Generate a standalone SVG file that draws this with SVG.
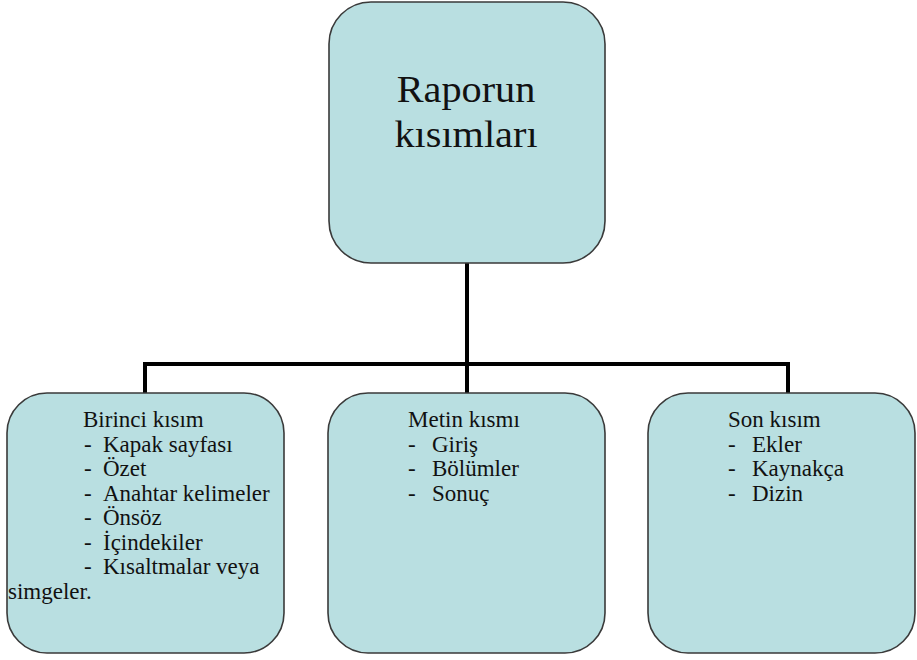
<svg xmlns="http://www.w3.org/2000/svg" width="917" height="660" viewBox="0 0 917 660">
<style>
.box{fill:#b9dfe1;stroke:#3a3a3a;stroke-width:1.6}
.t{font-family:"Liberation Serif","Times New Roman",serif;font-size:23px;fill:#111}
.title{font-family:"Liberation Serif","Times New Roman",serif;font-size:38px;fill:#111;text-anchor:middle}
.c{fill:none;stroke:#000;stroke-width:4}
</style>
<rect width="917" height="660" fill="#fff"/>
<g id="connectors">
<path class="c" d="M467 263V364M145 393V364H788V393M467 364V393"/>
</g>
<g id="root">
<rect class="box" x="329" y="2" width="276" height="261" rx="42"/>
<text class="title" transform="translate(466,102) scale(1.06,1)">Raporun</text>
<text class="title" transform="translate(466,147) scale(1.06,1)">kısımları</text>
</g>
<g id="birinci">
<rect class="box" x="7" y="393" width="277" height="260" rx="40"/>
<text class="t" x="83" y="427">Birinci kısım</text>
<text class="t" x="84" y="451.5">-</text>
<text class="t" x="103" y="451.5">Kapak sayfası</text>
<text class="t" x="84" y="476">-</text>
<text class="t" x="103" y="476">Özet</text>
<text class="t" x="84" y="500.5">-</text>
<text class="t" x="103" y="500.5">Anahtar kelimeler</text>
<text class="t" x="84" y="525">-</text>
<text class="t" x="103" y="525">Önsöz</text>
<text class="t" x="84" y="549.5">-</text>
<text class="t" x="103" y="549.5">İçindekiler</text>
<text class="t" x="84" y="574">-</text>
<text class="t" x="103" y="574">Kısaltmalar veya</text>
<text class="t" x="8" y="598.5">simgeler.</text>
</g>
<g id="metin">
<rect class="box" x="328" y="393" width="277" height="260" rx="40"/>
<text class="t" x="408" y="427">Metin kısmı</text>
<text class="t" x="408" y="451.5">-</text>
<text class="t" x="432" y="451.5">Giriş</text>
<text class="t" x="408" y="476">-</text>
<text class="t" x="432" y="476">Bölümler</text>
<text class="t" x="408" y="500.5">-</text>
<text class="t" x="432" y="500.5">Sonuç</text>
</g>
<g id="son">
<rect class="box" x="648" y="393" width="267" height="260" rx="40"/>
<text class="t" x="728" y="427">Son kısım</text>
<text class="t" x="728" y="451.5">-</text>
<text class="t" x="752" y="451.5">Ekler</text>
<text class="t" x="728" y="476">-</text>
<text class="t" x="752" y="476">Kaynakça</text>
<text class="t" x="728" y="500.5">-</text>
<text class="t" x="752" y="500.5">Dizin</text>
</g>
</svg>
